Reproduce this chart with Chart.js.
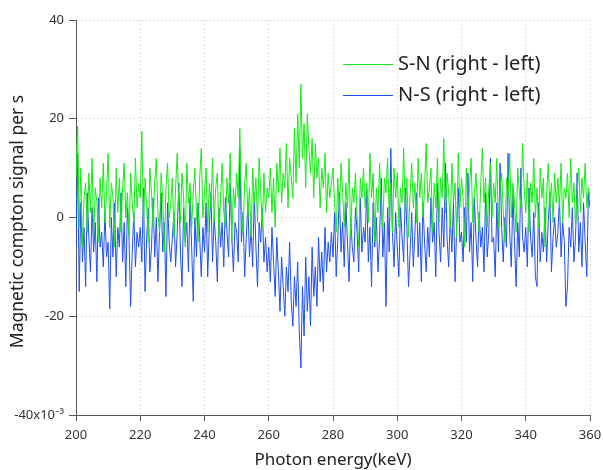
<!DOCTYPE html>
<html>
<head>
<meta charset="utf-8">
<script src="https://cdn.jsdelivr.net/npm/chart.js@4/dist/chart.umd.min.js"></script>
<style>
html,body{margin:0;padding:0;background:#fff;}
#wrap{width:603px;height:470px;position:relative;}
</style>
</head>
<body>
<div id="wrap"><canvas id="c" width="603" height="470"></canvas></div>
<script>
// Photon energy grid: 200 keV to 360 keV in 0.5 keV steps
const energyStart = 200;
const energyStep = 0.5;

// S-N (right - left) values, units of 1e-3 per s
const snValues = [
  8, 18.5, -2, 10, -6, 4, 7, -3, 9, 1, 12, -4, 6, 3, -5, 8, 2, 11, -1, 5,
  13, -2, 7, 4, -6, 10, 1, 8, -3, 6, 11, 0, 5, -4, 9, 3, -1, 12, 2, 7,
  4, 17.5, -1, 8, 2, -5, 10, 5, -2, 7, 12, 1, -3, 9, 4, -7, 6, 11, 0, 3,
  8, -4, 6, 13, 2, -1, 9, 4, -6, 11, 3, 7, -2, 5, 10, 1, -5, 8, 14, 0,
  5, 10, -3, 7, 2, 12, -1, 6, 9, -4, 4, 11, 1, -2, 8, 3, 13, -5, 6, 2,
  9, 4, 18, 2, -3, 7, 11, 0, 6, -4, 10, 3, 8, -1, 12, 5, -2, 9, 1, 6,
  4, 10, 1, 8, -2, 11, 5, 14, 3, 9, 6, 15, 2, 12, 8, 4, 18, 7, 21, 10,
  27, 12, 19, 6, 21, 14, 9, 16, 4, 15, 8, 12, 2, 10, 6, 13, 1, 9, 4, 7,
  10, 3, -3, 8, 1, 11, 5, -2, 7, 2, 12, -4, 6, 3, 9, 0, -6, 8, 4, 10,
  2, 7, -1, 13, 4, 9, -5, 6, 1, 11, 3, -2, 8, 5, 12, 0, 7, -3, 10, 4,
  9, -2, 6, 3, 14, 1, 8, -4, 5, 11, 2, 7, -1, 12, 4, 9, 0, 6, 15, 3,
  6, 10, -3, 7, 2, 12, -1, 8, 4, 16, 1, 9, 5, -2, 11, 3, 7, -4, 13, 2,
  8, 4, -6, 10, 1, 6, 12, -1, 5, 9, 2, -3, 7, 14, 3, 8, -2, 6, 11, 0,
  7, 3, 12, -2, 6, 9, 1, -5, 8, 4, 13, 0, 7, 3, -3, 10, 5, 2, 15, 6,
  1, 9, -3, 7, 3, 12, 0, 6, -2, 10, 4, 8, -6, 5, 11, 2, 7, -1, 9, 3,
  8, 2, 11, -1, 6, 4, 9, 0, 12, 3, 7, -2, 5, 10, 1, 8, 4, 11, 2, 6,
  4
];

// N-S (right - left) values, units of 1e-3 per s
const nsValues = [
  -6, 13, -15, 3, -9, -2, -14, 5, -4, -11, 2, -7, -1, -13, 4, -6, -3, -10, 1, -8,
  -5, -18.5, 0, -8, 3, -12, -2, -6, 5, -9, -1, -14, 2, -4, -18, -7, 1, -10, -3, -6,
  -2, -9, 6, -15, -4, 2, -11, -6, 4, -8, 0, -13, -3, 5, -7, -1, -16, 3, -5, -9,
  -4, 1, -10, -3, 7, -7, -14, 2, -5, -1, -11, 4, -6, -17, 0, -8, 3, -4, -12, -2,
  -7, 3, -12, -2, 5, -9, 0, -5, -13, 2, -6, -1, -10, 4, -3, -8, 7, -4, -11, -1,
  -3, -9, 14, -5, 1, -12, -4, 3, -8, -2, -10, 5, -6, -14, -1, -5, 2, -9, -4, -11,
  -6, -13, -2, -9, -16, -4, -11, -19, -8, -14, -20, -10, -15, -5, -17, -22, -12, -18, -9, -23,
  -30.5, -14, -24, -8, -19, -12, -22, -6, -16, -10, -18, -4, -13, -7, -15, -2, -11, -5, -9, -3,
  -8, 1, -12, -4, 5, -7, -1, -10, 3, -5, -13, 0, -6, -9, 2, -3, -11, 4, -7, -2,
  -5, 6, -9, -2, -14, 3, -6, 0, -11, -4, 8, -8, -1, -18, 2, -7, 14, -3, -10, 1,
  -6, -12, 2, -4, -9, 6, -2, -14, -7, 1, -10, -3, 5, -8, -1, -13, 3, -5, -11, -2,
  -8, 4, -5, -1, -12, 7, -3, -9, 2, -6, 11, -4, -10, 0, -7, 3, -13, -2, 6, -5,
  -3, -9, 2, -5, 9, -7, -1, -13, 4, -4, -10, 1, -6, -2, -11, 5, -8, -3, 12, -5,
  -4, -12, 3, -7, 11, -2, -9, 0, -6, 13, -3, -10, 5, -5, -14, -1, -8, 10, -4, -7,
  -2, -10, 6, -4, -8, 1, -12, -14, 3, -9, -3, -7, 2, -9, -1, 5, -11, -4, 0, -6,
  -3, 4, -8, -1, -5, -18, -14, -2, -6, 2, -9, -4, 9, -7, -1, -10, 3, -5, -12, 5,
  2
];

const xTicks = [200, 220, 240, 260, 280, 300, 320, 340, 360];
const yTicks = [-40, -20, 0, 20, 40];
const seriesLabels = ['S-N (right - left)', 'N-S (right - left)'];
const seriesColors = ['#18e818', '#1f4ff0'];

const energies = snValues.map((_, i) => energyStart + i * energyStep);
const toPoints = vals => vals.map((v, i) => ({x: energies[i], y: v}));

const FONT = '"Noto Sans", "DejaVu Sans", sans-serif';

const overlay = {
  id: 'overlay',
  afterDraw(chart) {
    const ctx = chart.ctx;
    const a = chart.chartArea;
    ctx.save();
    // axis titles
    ctx.fillStyle = '#222';
    ctx.font = '17px ' + FONT;
    ctx.textAlign = 'center';
    ctx.textBaseline = 'middle';
    ctx.fillText('Photon energy(keV)', (a.left + a.right) / 2, 460);
    ctx.save();
    ctx.translate(18, (a.top + a.bottom) / 2 + 4);
    ctx.rotate(-Math.PI / 2);
    ctx.font = '17.5px ' + FONT;
    ctx.fillText('Magnetic compton signal per s', 0, 0);
    ctx.restore();
    // legend
    ctx.textAlign = 'left';
    ctx.font = '20px ' + FONT;
    const rows = [64, 95];
    chart.data.datasets.forEach((ds, i) => {
      ctx.strokeStyle = ds.borderColor;
      ctx.lineWidth = 1;
      ctx.beginPath();
      ctx.moveTo(343, rows[i] + 0.5);
      ctx.lineTo(393, rows[i] + 0.5);
      ctx.stroke();
      ctx.fillStyle = '#222';
      ctx.fillText(ds.label, 398, rows[i]);
    });
    ctx.restore();
  }
};

new Chart(document.getElementById('c'), {
  type: 'line',
  data: {
    datasets: [
      {label: seriesLabels[0], data: toPoints(snValues), borderColor: seriesColors[0], borderWidth: 1, pointRadius: 0, fill: false, tension: 0},
      {label: seriesLabels[1], data: toPoints(nsValues), borderColor: seriesColors[1], borderWidth: 1, pointRadius: 0, fill: false, tension: 0}
    ]
  },
  options: {
    responsive: false,
    animation: false,
    devicePixelRatio: 1,
    layout: {padding: {left: 0, right: 13, top: 20, bottom: 0}},
    plugins: {legend: {display: false}, tooltip: {enabled: false}},
    scales: {
      x: {
        type: 'linear', min: 200, max: 360,
        afterBuildTicks: s => { s.ticks = xTicks.map(v => ({value: v})); },
        afterFit: s => { s.height = 55; s.paddingRight = 0; s.paddingLeft = 0; },
        ticks: {color: '#333', font: {family: FONT, size: 13}, padding: 6, maxRotation: 0},
        grid: {color: '#e2e2e2', tickColor: '#555', tickLength: 6, tickBorderDash: [], lineWidth: 1},
        border: {display: true, color: '#555', width: 1, dash: [2, 2]}
      },
      y: {
        type: 'linear', min: -40, max: 40,
        afterBuildTicks: s => { s.ticks = yTicks.map(v => ({value: v})); },
        afterFit: s => { s.width = 76; s.paddingTop = 0; s.paddingBottom = 0; },
        ticks: {color: '#333', font: {family: FONT, size: 13}, padding: 5,
          callback: v => v === -40 ? '-40x10\u207B\u00B3' : String(v)},
        grid: {color: '#e2e2e2', tickColor: '#555', tickLength: 7, tickBorderDash: [], lineWidth: 1},
        border: {display: true, color: '#555', width: 1, dash: [2, 2]}
      }
    }
  },
  plugins: [overlay]
});
</script>
</body>
</html>
